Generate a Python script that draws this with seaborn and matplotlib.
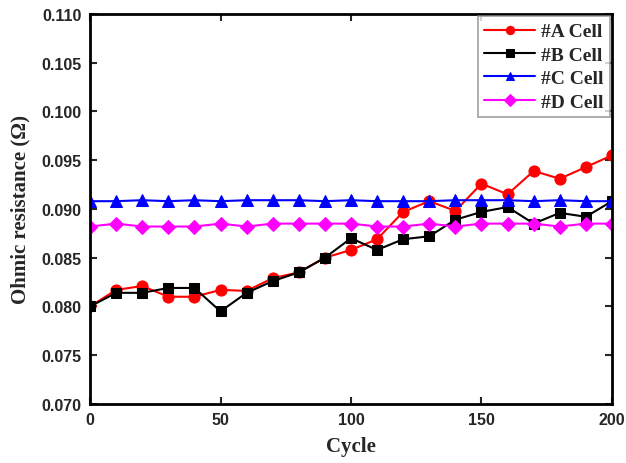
import matplotlib
matplotlib.use("Agg")
import matplotlib.pyplot as plt
import seaborn as sns
import pandas as pd

cycles = [0, 10, 20, 30, 40, 50, 60, 70, 80, 90, 100, 110, 120, 130, 140, 150, 160, 170, 180, 190, 200]
cell_a = [0.0800, 0.0817, 0.0821, 0.0810, 0.0810, 0.0817, 0.0816, 0.0829, 0.0835, 0.0850, 0.0858,
          0.0869, 0.0897, 0.0908, 0.0898, 0.0926, 0.0915, 0.0939, 0.0931, 0.0943, 0.0955]
cell_b = [0.0800, 0.0814, 0.0814, 0.0819, 0.0819, 0.0795, 0.0814, 0.0826, 0.0835, 0.0850, 0.0870,
          0.0858, 0.0869, 0.0872, 0.0889, 0.0897, 0.0902, 0.0885, 0.0896, 0.0892, 0.0908]
cell_c = [0.0908, 0.0908, 0.0909, 0.0908, 0.0909, 0.0908, 0.0909, 0.0909, 0.0909, 0.0908, 0.0909,
          0.0908, 0.0908, 0.0908, 0.0909, 0.0909, 0.0909, 0.0908, 0.0909, 0.0908, 0.0908]
cell_d = [0.0882, 0.0885, 0.0882, 0.0882, 0.0882, 0.0885, 0.0882, 0.0885, 0.0885, 0.0885, 0.0885,
          0.0882, 0.0882, 0.0885, 0.0882, 0.0885, 0.0885, 0.0885, 0.0882, 0.0885, 0.0885]
labels = ["#A Cell", "#B Cell", "#C Cell", "#D Cell"]
colors = ["#ff0000", "#000000", "#0000ff", "#ff00ff"]
markers = ["o", "s", "^", "D"]

sns.set_theme(style="ticks")
plt.rcParams["font.family"] = ["Liberation Sans", "DejaVu Sans"]

fig = plt.figure(figsize=(6.26, 4.64), dpi=100)
ax = fig.add_axes([0.1438, 0.1272, 0.8338, 0.8405])

series = [cell_a, cell_b, cell_c, cell_d]
msizes = [8, 7.5, 8.5, 7.5]
for vals, lab, col, mk, ms in zip(series, labels, colors, markers, msizes):
    df = pd.DataFrame({"Cycle": cycles, "R": vals})
    sns.lineplot(data=df, x="Cycle", y="R", ax=ax, color=col, marker=mk, markersize=ms,
                 markeredgecolor=col, linewidth=1.5, label=lab)

ax.set_xlim(0, 200)
ax.set_ylim(0.070, 0.110)
ax.set_xticks([0, 50, 100, 150, 200])
ax.set_yticks([0.070, 0.075, 0.080, 0.085, 0.090, 0.095, 0.100, 0.105, 0.110])
ax.set_yticklabels([f"{v:.3f}" for v in ax.get_yticks()])
ax.tick_params(direction="in", length=5, width=1.5, top=True, right=True,
               labeltop=False, labelright=False, labelsize=11.5, pad=6)
for t in ax.get_xticklabels() + ax.get_yticklabels():
    t.set_fontweight("bold")
for s in ax.spines.values():
    s.set_linewidth(2)
    s.set_color("black")

ax.set_xlabel("Cycle", fontfamily="Liberation Serif", fontweight="bold", fontsize=15, labelpad=6)
ax.set_ylabel("Ohmic resistance (\u03a9)", fontfamily="Liberation Serif", fontweight="bold",
              fontsize=15, labelpad=8)

leg = ax.legend(loc="upper right", prop={"family": "Liberation Serif", "weight": "bold", "size": 14},
                frameon=True, fancybox=False, handlelength=2.6, borderaxespad=0.1,
                labelspacing=0.3, handletextpad=0.3, borderpad=0.35, markerscale=0.75)
leg.get_frame().set_edgecolor("#888888")
leg.get_frame().set_linewidth(1.2)

fig.savefig("out.png", dpi=100)
